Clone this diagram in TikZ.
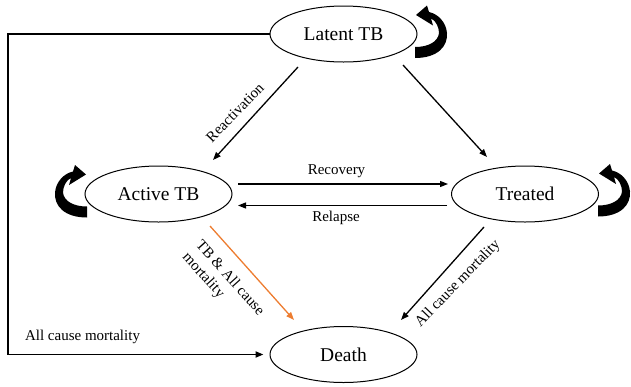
\documentclass[tikz,border=0pt]{standalone}
\usepackage{fontspec}
\setmainfont{Liberation Serif}
\usetikzlibrary{arrows.meta,shapes.geometric}
\definecolor{tborange}{RGB}{237,125,49}
\begin{document}
\begin{tikzpicture}[x=1pt,y=1pt,
  state/.style={draw=black,line width=1pt,ellipse,minimum width=147pt,minimum height=56pt,inner sep=0pt,
    font=\fontsize{19.5}{23}\selectfont},
  conn/.style={line width=1.3pt,-{Triangle[length=8pt,width=6pt]}},
  boxline/.style={line width=1.8pt,-{Triangle[length=8pt,width=6pt]}},
  lab/.style={font=\fontsize{15}{18}\selectfont,inner sep=0pt},
  loopshape/.pic={
    \fill[black] (0,-5.5) .. controls (23,-5.5) and (33,6.5) .. (32,19.5)
      .. controls (31,30.5) and (23,38.5) .. (14,40.5)
      -- (12,47) -- (1,37.5) -- (18,27) -- (16,34)
      .. controls (21,32) and (24,25) .. (24,19.5)
      .. controls (23,10.5) and (13,5.5) .. (0,5.5) -- cycle;
  }]
\useasboundingbox (0,0) rectangle (631,-386);
\node[state] (L) at (343.5,-34) {Latent TB};
\node[state] (A) at (158.5,-194) {Active TB};
\node[state] (T) at (525,-194) {Treated};
\node[state] (D) at (343.5,-354.5) {Death};
% self loops
\pic at ([xshift=71.5pt,yshift=-18.5pt]L.center) {loopshape};
\pic[xscale=-1] at ([xshift=-71.5pt,yshift=-18pt]A.center) {loopshape};
\pic at ([xshift=73pt,yshift=-17pt]T.center) {loopshape};
% connectors
\draw[conn] ([xshift=-45.5pt,yshift=-33pt]L.center) -- ([xshift=54.5pt,yshift=34pt]A.center);
\draw[conn] ([xshift=59.5pt,yshift=-31pt]L.center) -- ([xshift=-38pt,yshift=37pt]T.center);
\draw[conn] ([xshift=79.5pt,yshift=10pt]A.center) -- ([xshift=-77pt,yshift=10pt]T.center);
\draw[conn] ([xshift=-78pt,yshift=-11.5pt]T.center) -- ([xshift=79.5pt,yshift=-11.5pt]A.center);
\draw[conn,draw=tborange,fill=tborange] ([xshift=51.5pt,yshift=-32pt]A.center) -- ([xshift=-49.5pt,yshift=34.5pt]D.center);
\draw[conn] ([xshift=-41pt,yshift=-33pt]T.center) -- ([xshift=57.5pt,yshift=34.5pt]D.center);
\coordinate (c1) at (8,-34);
\coordinate (c2) at (8,-354.5);
\draw[boxline] (L.west) -- (c1) -- (c2) -- ([xshift=-6pt]D.west);
% labels
\node[lab,rotate=46] (lreact) at (235,-112.5) {Reactivation};
\node[lab] (lrec) at (336.5,-171.5) {Recovery};
\node[lab] (lrel) at (336,-217.5) {Relapse};
\node[lab,rotate=-48,align=left] (ltb) at (223,-284.5) {TB \& All cause\\mortality};
\node[lab,rotate=46] (lacm1) at (458,-283.5) {All cause mortality};
\node[lab] (lacm2) at (82.5,-337) {All cause mortality};
\end{tikzpicture}
\end{document}
